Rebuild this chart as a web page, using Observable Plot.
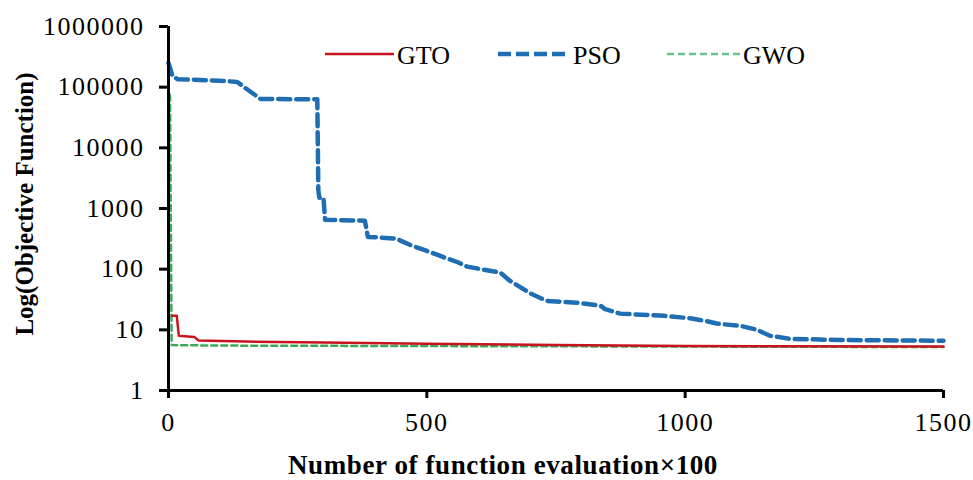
<!DOCTYPE html>
<html>
<head>
<meta charset="utf-8">
<script src="https://cdn.jsdelivr.net/npm/d3@7"></script>
<script src="https://cdn.jsdelivr.net/npm/@observablehq/plot@0.6"></script>
<style>
  html, body { margin: 0; padding: 0; background: #fff; }
  #chart { width: 973px; height: 480px; }
</style>
</head>
<body>
<div id="chart"></div>
<script>
// Tick labels
const xTicks = [0, 500, 1000, 1500];
const yTicks = [1, 10, 100, 1000, 10000, 100000, 1000000];

// Series: [evaluations ×100, objective value]
const gtoSeries = [
  [7, 17], [16, 17], [20, 8], [50, 7.6], [58, 6.7], [150, 6.4], [300, 6.2],
  [500, 5.9], [750, 5.6], [1000, 5.4], [1500, 5.3]
];
const psoSeries = [
  [0, 250000], [8, 150000], [18, 135000], [100, 128000], [133, 122000], [150, 95000], [178, 64000],
  [288, 63000], [290, 2000], [292, 1500], [300, 1500], [303, 650], [380, 630],
  [386, 340], [440, 320], [468, 250], [500, 200], [526, 165], [560, 130], [578, 110],
  [642, 88], [660, 65], [700, 40], [732, 30], [790, 28], [836, 25], [845, 22],
  [874, 18.5], [960, 17], [1010, 15.5], [1040, 14], [1061, 12.7], [1110, 11.5],
  [1139, 10], [1164, 8], [1203, 7.1], [1300, 6.8], [1500, 6.6]
];
const gwoSeries = [
  [3, 75000], [6, 5.6], [100, 5.5], [500, 5.4], [1000, 5.3], [1500, 5.2]
];

const seriesNames = ["GTO", "PSO", "GWO"];
const seriesColors = ["#c8141e", "#1f6eb4", "#3fa85c"];

const toRows = (arr, name) => arr.map(([x, y]) => ({x, y, name}));
const rows = [
  ...toRows(gtoSeries, "GTO"),
  ...toRows(psoSeries, "PSO"),
  ...toRows(gwoSeries, "GWO")
];

const font = "'Liberation Serif', 'Times New Roman', serif";

const chart = Plot.plot({
  width: 973,
  height: 480,
  marginLeft: 168,
  marginRight: 30,
  marginTop: 26,
  marginBottom: 90,
  style: { fontFamily: font, fontSize: "26px", background: "#fff", color: "#000", overflow: "visible" },
  x: { domain: [0, 1500], label: null },
  y: { type: "log", domain: [1, 1000000], label: null },
  marks: [
    Plot.line(rows.filter(d => d.name === "GWO"), {
      x: "x", y: "y", stroke: seriesColors[2], strokeWidth: 2.5, strokeDasharray: "6,4"
    }),
    Plot.line(rows.filter(d => d.name === "GTO"), {
      x: "x", y: "y", stroke: seriesColors[0], strokeWidth: 2.5
    }),
    Plot.line(rows.filter(d => d.name === "PSO"), {
      x: "x", y: "y", stroke: seriesColors[1], strokeWidth: 4.5, strokeDasharray: "12,6"
    }),
    Plot.axisX({ ticks: xTicks, tickSize: 8, tickPadding: 14, strokeWidth: 3, fontSize: 26, label: null, tickFormat: d => String(d) }),
    Plot.axisY({ ticks: yTicks, tickSize: 9, tickPadding: 15, strokeWidth: 3, fontSize: 26, label: null, tickFormat: d => String(d) }),
    Plot.ruleX([0], { strokeWidth: 3 }),
    Plot.ruleY([1], { strokeWidth: 3 })
  ]
});

const svg = d3.select(chart);

// Slightly wider tick label glyphs, as in the reference
svg.selectAll('g[aria-label*="tick label"]')
  .attr("font-size", 26)
  .style("font-size", "26px")
  .attr("letter-spacing", "1.5px");

// Axis titles
svg.append("text")
  .attr("transform", "translate(33,204) rotate(-90)")
  .attr("text-anchor", "middle")
  .attr("font-family", font)
  .attr("font-weight", "bold")
  .attr("font-size", 25)
  .attr("fill", "#000")
  .text("Log(Objective Function)");

svg.append("text")
  .attr("x", 503)
  .attr("y", 474)
  .attr("text-anchor", "middle")
  .attr("font-family", font)
  .attr("font-weight", "bold")
  .attr("font-size", 27)
  .attr("letter-spacing", "0.6px")
  .attr("fill", "#000")
  .text("Number of function evaluation×100");

// Legend
const legendItems = [
  { name: seriesNames[0], x0: 325, x1: 394, width: 2.5, dash: null, color: seriesColors[0] },
  { name: seriesNames[1], x0: 498, x1: 570, width: 4.5, dash: "13,5", color: seriesColors[1] },
  { name: seriesNames[2], x0: 667, x1: 740, width: 2.5, dash: "7,4", color: "#6cc38a" }
];
const lg = svg.append("g");
legendItems.forEach(it => {
  lg.append("line")
    .attr("x1", it.x0).attr("x2", it.x1)
    .attr("y1", 54).attr("y2", 54)
    .attr("stroke", it.color)
    .attr("stroke-width", it.width)
    .attr("stroke-dasharray", it.dash);
  lg.append("text")
    .attr("x", it.x1 + 3)
    .attr("y", 64)
    .attr("text-anchor", "start")
    .attr("font-family", font)
    .attr("font-size", 26)
    .attr("fill", "#000")
    .text(it.name);
});

document.getElementById("chart").append(chart);
</script>
</body>
</html>
